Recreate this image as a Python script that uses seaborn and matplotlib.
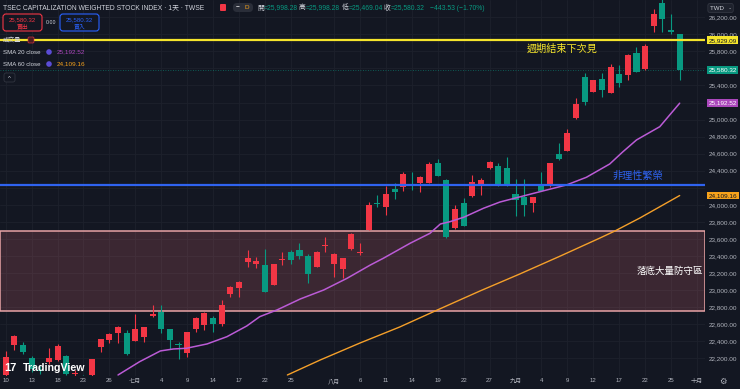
import pandas as pd
import matplotlib
matplotlib.use('Agg')
import matplotlib.pyplot as plt
import matplotlib.transforms as mtransforms
from matplotlib.patches import FancyBboxPatch, Circle
import seaborn as sns

# daily candles, one bar per trading day (10 Jun -> 26 Sep)
opens = [22005, 22356, 22356, 22204, 22063, 22157, 22180, 22230, 22016, 21990,
         22005, 22329, 22415, 22493, 22500, 22406, 22453, 22700, 22747, 22540,
         22371, 22259, 22547, 22591, 22677, 22599, 22951, 23021, 23326, 23306,
         23294, 23060, 23353, 23450, 23470, 23404, 23275, 23517, 23306, 23244,
         23479, 23432, 23705, 24025, 23971, 24182, 24213, 24245, 24253, 24260,
         24487, 24292, 23725, 24025, 24104, 24233, 24436, 24456, 24429, 24127,
         24096, 24018, 24225, 24221, 24596, 24635, 25015, 25496, 25327, 25476,
         25316, 25535, 25523, 25785, 25590, 26102, 26372, 26051, 25998.28]
highs = [22286, 22470, 22388, 22227, 22110, 22320, 22364, 22240, 22063, 21998,
         22188, 22427, 22500, 22579, 22532, 22720, 22570, 22825, 22825, 22545,
         22395, 22512, 22685, 22740, 22696, 22884, 23048, 23105, 23470, 23392,
         23479, 23306, 23450, 23470, 23549, 23425, 23455, 23619, 23435, 23380,
         23670, 23549, 24037, 24116, 24222, 24253, 24389, 24389, 24340, 24499,
         24538, 24300, 23998, 24077, 24350, 24320, 24520, 24494, 24565, 24300,
         24300, 24092, 24389, 24490, 24722, 24886, 25250, 25550, 25470, 25550,
         25649, 25641, 25765, 25855, 25887, 26294, 26420, 26239, 25998.28]
lows = [21960, 22297, 22250, 22040, 22016, 22135, 22170, 22000, 21990, 21850,
        21980, 22277, 22383, 22383, 22239, 22400, 22395, 22690, 22497, 22309,
        22188, 22215, 22509, 22532, 22512, 22579, 22923, 22923, 23275, 23256,
        22978, 23055, 23294, 23306, 23361, 23087, 23270, 23450, 23157, 23138,
        23475, 23412, 23700, 23971, 23881, 24065, 24166, 24174, 24154, 24255,
        24335, 23615, 23720, 23748, 24095, 24116, 24421, 24220, 24220, 23869,
        23869, 23920, 24160, 24215, 24530, 24630, 25010, 25171, 25320, 25269,
        25310, 25379, 25465, 25555, 25585, 26031, 26031, 26005, 25469.04]
closes = [22215, 22462, 22270, 22069, 22045, 22204, 22348, 22016, 22033, 21950,
          22188, 22423, 22481, 22571, 22247, 22540, 22564, 22716, 22540, 22415,
          22356, 22512, 22673, 22735, 22599, 22825, 23033, 23099, 23373, 23338,
          22981, 23306, 23365, 23353, 23400, 23189, 23450, 23532, 23423, 23373,
          23658, 23450, 23998, 24010, 24124, 24147, 24362, 24229, 24323, 24476,
          24342, 23619, 23951, 23752, 24264, 24292, 24506, 24225, 24225, 24057,
          23998, 24088, 24166, 24487, 24534, 24839, 25183, 25203, 25465, 25347,
          25621, 25426, 25758, 25562, 25863, 26239, 26180, 26024, 25580.32]

# moving averages (bar position, value)
sma20_x = [13.0, 15.5, 17.9, 19.4, 20.9, 23.3, 25.6, 27.9, 29.4, 31.4, 34.1, 36.8,
           39.5, 42.2, 43.7, 46.8, 49.1, 50.3, 51.4, 53.0, 55.3, 57.2, 59.9, 62.6,
           64.9, 67.2, 69.9, 71.4, 73.0, 75.7, 78.0]
sma20_y = [22004, 22160, 22286, 22309, 22317, 22368, 22453, 22579, 22688, 22767, 22896, 23001,
           23138, 23294, 23373, 23549, 23666, 23775, 23802, 23854, 23960, 24033, 24104, 24174,
           24233, 24323, 24479, 24620, 24761, 24917, 25192.52]
sma60_x = [32.6, 36.4, 41.0, 45.6, 49.7, 54.9, 59.5, 64.2, 68.8, 70.5, 73.4, 78.0]
sma60_y = [22004, 22180, 22379, 22567, 22755, 22990, 23189, 23400, 23612, 23693, 23846, 24109.16]

tick_pos = [0, 3, 6, 9, 12, 15, 18, 21, 24, 27, 30, 33, 38, 41, 44, 47, 50, 53, 56,
            59, 62, 65, 68, 71, 74, 77, 80]
tick_lab = ['10', '13', '18', '23', '26', '七月', '4', '9', '14', '17', '22', '25', '八月',
            '6', '11', '14', '19', '22', '27', '九月', '4', '9', '12', '17', '22', '25', '十月']

yellow_level = 25929.09
blue_level = 24233
zone_low, zone_high = 22755, 23693
last_close = 25580.32

sns.set_theme(style='dark')
plt.rcParams['font.family'] = ['Liberation Sans', 'Noto Sans CJK TC', 'DejaVu Sans']

BG = '#131722'
UP = '#f23645'
DOWN = '#089981'
TXT = '#b2b5be'
LIGHT = '#d1d4dc'

df = pd.DataFrame({'o': opens, 'h': highs, 'l': lows, 'c': closes})
df['i'] = range(len(df))
df['col'] = [UP if c >= o else DOWN for o, c in zip(df.o, df.c)]
df['bottom'] = df[['o', 'c']].min(axis=1)
df['body'] = (df.c - df.o).abs().clip(lower=14)

fig = plt.figure(figsize=(7.4, 3.89), dpi=100, facecolor=BG)
ax = fig.add_axes([0, 13 / 389, 705 / 740, 376 / 389], facecolor=BG)
px = mtransforms.Affine2D().scale(1 / 740, -1 / 389).translate(0, 1) + fig.transFigure

ax.set_xlim(-0.66, 80.93)
ax.set_ylim(21992, 26403)

# zone + levels
ax.axhspan(zone_low, zone_high, facecolor=(0.95, 0.45, 0.5, 0.18), edgecolor='#e9a3a6',
           lw=1.1, zorder=0.6)
ax.axhline(last_close, color=DOWN, lw=0.6, ls=(0, (1, 2)), alpha=0.7, zorder=0.7)

# candles
ax.vlines(df.i, df.l, df.h, colors=df.col, lw=0.8, zorder=2)
ax.bar(df.i, df.body, bottom=df.bottom, width=0.7, color=df.col, lw=0, zorder=2.1)

sns.lineplot(x=sma20_x, y=sma20_y, ax=ax, color='#bb5bd6', lw=1.1, sort=False, zorder=2.5)
sns.lineplot(x=sma60_x, y=sma60_y, ax=ax, color='#f5a02a', lw=1.0, sort=False, zorder=2.5)

ax.axhline(yellow_level, color='#f5e52c', lw=1.6, zorder=4)
ax.axhline(blue_level, color='#2f63f0', lw=1.6, zorder=4)

ax.text(64.4, 25828, '週期結束下次見', color='#f5e52c', fontsize=7.3, ha='center', va='center', zorder=5)
ax.text(73.1, 24338, '非理性繁榮', color='#2f63f0', fontsize=7.3, ha='center', va='center', zorder=5)
ax.text(76.9, 23225, '落底大量防守區', color='white', fontsize=6.8, ha='center', va='center', zorder=5)

# axes, grid
yt = list(range(22200, 26400, 200))
hidden = {24200, 25200, 25600}
ax.set_yticks(yt, ['' if v in hidden else f'{v:,.2f}' for v in yt])
ax.yaxis.tick_right()
ax.set_xticks(tick_pos, tick_lab)
ax.tick_params(axis='y', length=0, pad=3, labelsize=4.6, labelcolor=TXT)
ax.tick_params(axis='x', length=0, pad=1.8, labelsize=4.4, labelcolor=TXT)
ax.grid(True, color='#1d212c', lw=0.6)
ax.set_axisbelow(True)
for s in ax.spines.values():
    s.set_visible(False)

# price tags on the scale
tagx = mtransforms.blended_transform_factory(px, ax.transData)
for val, bg, fg in [(yellow_level, '#f5e52c', BG), (last_close, DOWN, 'white'),
                    (25192.52, '#ab47bc', 'white'), (24109.16, '#f7a21b', BG)]:
    ax.text(708.5, val, f'{val:,.2f}', transform=tagx, ha='left', va='center', fontsize=4.6,
            color=fg, clip_on=False, zorder=6,
            bbox=dict(boxstyle='square,pad=0.22', fc=bg, ec='none'))

fig.text(710, 8, 'TWD   -', transform=px, color=LIGHT, fontsize=4.4, va='center',
         bbox=dict(boxstyle='round,pad=0.35', fc='#1e222d', ec='#363a45', lw=0.5))

# header
fig.text(3, 8, 'TSEC CAPITALIZATION WEIGHTED STOCK INDEX · 1天 · TWSE', transform=px,
         color=LIGHT, fontsize=4.9, va='center')
fig.add_artist(FancyBboxPatch((220, 4), 6, 7, boxstyle='round,pad=0,rounding_size=1',
                              fc=UP, ec='none', transform=px))
fig.add_artist(FancyBboxPatch((233, 3), 20, 9, boxstyle='round,pad=0,rounding_size=4',
                              fc='#2a2e39', ec='none', transform=px))
fig.text(238, 7.5, '−', transform=px, color='white', fontsize=4.8, va='center', ha='center')
fig.text(247, 7.5, 'D', transform=px, color='#f7a21b', fontsize=4.6, va='center', ha='center')
for x, lab, val in [(257, '開', '=25,998.28'), (299, '高', '=25,998.28'),
                    (342, '低', '=25,469.04'), (384, '收', '=25,580.32')]:
    fig.text(x, 8, lab, transform=px, color=LIGHT, fontsize=4.9, va='center')
    fig.text(x + 6.5, 8, val, transform=px, color=DOWN, fontsize=4.9, va='center')
fig.text(430, 8, '−443.53 (−1.70%)', transform=px, color=DOWN, fontsize=4.9, va='center')

for x0, col, lab in [(3, UP, '賣出'), (60, '#2962ff', '買入')]:
    fig.add_artist(FancyBboxPatch((x0, 14), 39, 17, boxstyle='round,pad=0,rounding_size=3',
                                  fc=BG, ec=col, lw=0.8, transform=px))
    fig.text(x0 + 19.5, 19.5, '25,580.32', transform=px, color=col, fontsize=4.4,
             ha='center', va='center')
    fig.text(x0 + 19.5, 26.5, lab, transform=px, color=col, fontsize=4.2, ha='center', va='center')
fig.text(51, 23, '0.00', transform=px, color=LIGHT, fontsize=3.8, ha='center', va='center')

fig.text(3, 40, '成交量', transform=px, color=LIGHT, fontsize=4.4, va='center')
fig.add_artist(FancyBboxPatch((28, 37), 6, 6, boxstyle='round,pad=0,rounding_size=1',
                              fc='#4a1c22', ec=UP, lw=0.4, transform=px))
for y, val, col in [(52, '25,192.52', '#ab47bc'), (64, '24,109.16', '#f7a21b')]:
    fig.text(3, y, f'SMA {20 if y == 52 else 60} close', transform=px, color=LIGHT,
             fontsize=4.4, va='center')
    fig.add_artist(Circle((49, y), 2.8, fc='#5b4cd6', ec='none', transform=px))
    fig.text(57, y, val, transform=px, color=col, fontsize=4.6, va='center')
fig.add_artist(FancyBboxPatch((4, 73), 11, 9, boxstyle='round,pad=0,rounding_size=2',
                              fc=BG, ec='#363a45', lw=0.5, transform=px))
fig.text(9.5, 78.5, '^', transform=px, color=LIGHT, fontsize=4.4, ha='center', va='center')

# watermark + settings icon
fig.text(4, 368, '17', transform=px, color='white', fontsize=8, fontweight='bold', va='center')
fig.text(23, 368, 'TradingView', transform=px, color='white', fontsize=7.7,
         fontweight='bold', va='center')
fig.text(723, 381, '⚙', transform=px, color=TXT, fontsize=6, ha='center', va='center',
         family='DejaVu Sans')

plt.savefig('out.png', dpi=100, facecolor=BG)
